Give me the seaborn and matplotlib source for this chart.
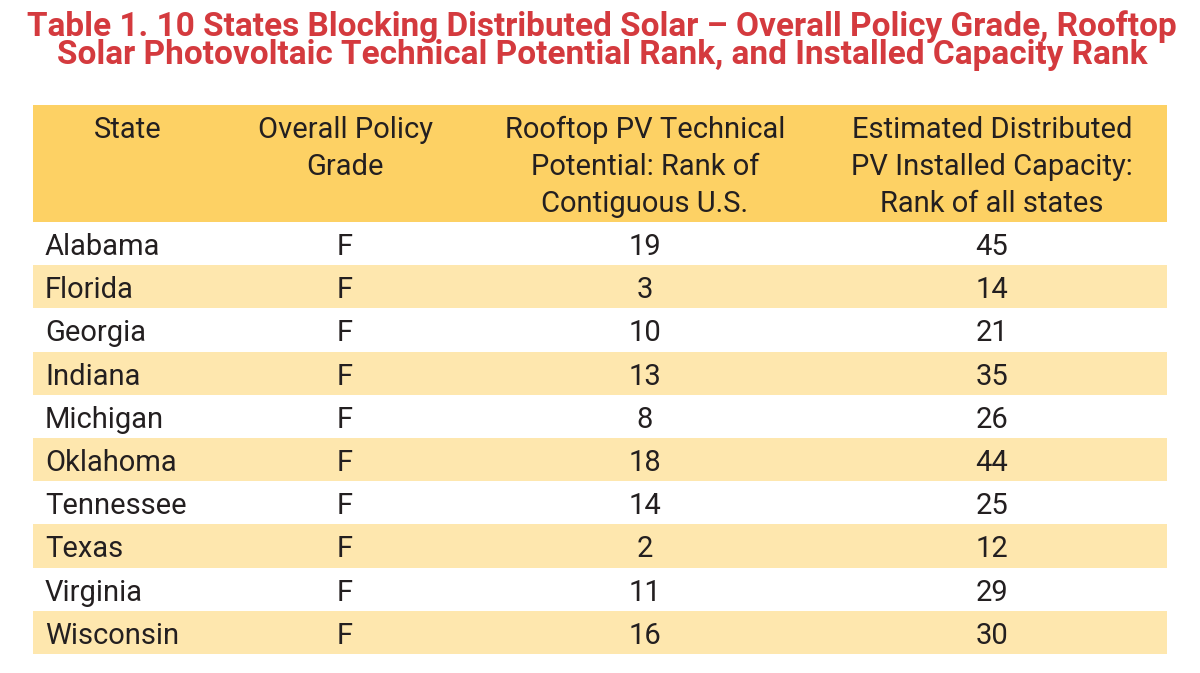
import matplotlib
matplotlib.use("Agg")
import matplotlib.pyplot as plt
import seaborn as sns

sns.set_theme(style="white")
body_font = ['Roboto', 'DejaVu Sans']
title_font = ['Roboto', 'DejaVu Sans']
plt.rcParams['font.family'] = body_font

## Data
title_lines = ["Table 1. 10 States Blocking Distributed Solar \u2013 Overall Policy Grade, Rooftop",
               "Solar Photovoltaic Technical Potential Rank, and Installed Capacity Rank"]
headers = ["State",
           "Overall Policy\nGrade",
           "Rooftop PV Technical\nPotential: Rank of\nContiguous U.S.",
           "Estimated Distributed\nPV Installed Capacity:\nRank of all states"]
states = ["Alabama", "Florida", "Georgia", "Indiana", "Michigan",
          "Oklahoma", "Tennessee", "Texas", "Virginia", "Wisconsin"]
grades = ["F", "F", "F", "F", "F", "F", "F", "F", "F", "F"]
rooftop_rank = [19, 3, 10, 13, 8, 18, 14, 2, 11, 16]
capacity_rank = [45, 14, 21, 35, 26, 44, 25, 12, 29, 30]

## Layout (pixels)
W, H = 1200, 673
left, right = 33, 1167
head_top, head_bot = 105, 222
row_h = 43.2
col_x = [45, 345, 645, 992]
head_x = [128, 345, 645, 992]
fs = 21

header_col = "#fdd164"
band_col = "#fee7ae"
text_col = "#231f20"
title_col = "#d43a3e"

fig = plt.figure(figsize=(W / 100, H / 100), dpi=100)
ax = fig.add_axes([0, 0, 1, 1])
ax.set_xlim(0, W)
ax.set_ylim(H, 0)
ax.axis("off")

## Title
for i, line in enumerate(title_lines):
    ax.text(W / 2 + 2, 36 + 28 * i, line, ha="center", va="baseline",
            fontsize=24, fontweight="bold", color=title_col, family=title_font)

## Header
ax.fill_between([left, right], head_top, head_bot, color=header_col, lw=0)
for x, h in zip(head_x, headers):
    for k, part in enumerate(h.split("\n")):
        ax.text(x, head_top + 33 + 37 * k, part, ha="center", va="baseline",
                fontsize=fs, color=text_col)

## Rows
for i, (s, g, r, c) in enumerate(zip(states, grades, rooftop_rank, capacity_rank)):
    y0 = head_bot + i * row_h
    yb = y0 + 33
    if i % 2 == 1:
        ax.fill_between([left, right], y0, y0 + row_h, color=band_col, lw=0)
    ax.text(col_x[0], yb, s, ha="left", va="baseline", fontsize=fs, color=text_col)
    ax.text(col_x[1], yb, g, ha="center", va="baseline", fontsize=fs, color=text_col)
    ax.text(col_x[2], yb, str(r), ha="center", va="baseline", fontsize=fs, color=text_col)
    ax.text(col_x[3], yb, str(c), ha="center", va="baseline", fontsize=fs, color=text_col)

fig.savefig("out.png", dpi=100)
